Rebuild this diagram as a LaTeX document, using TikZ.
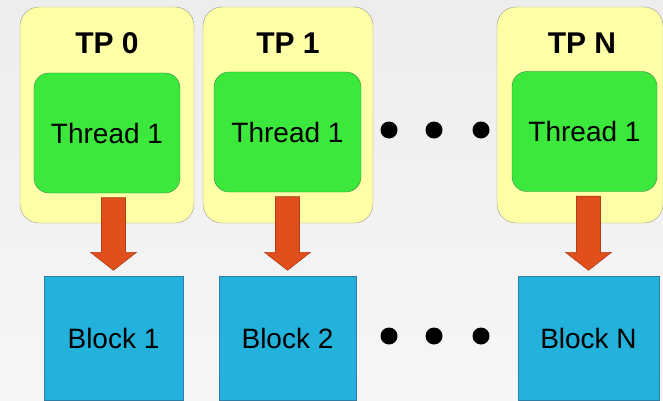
\documentclass[tikz,border=0pt]{standalone}
\usepackage{fontspec}
\setmainfont{Liberation Sans}
\usetikzlibrary{calc}
\definecolor{bgtop}{HTML}{EDEDED}
\definecolor{bgbottom}{HTML}{F6F6F6}
\definecolor{poolfill}{HTML}{FFFFA8}
\definecolor{pooledge}{HTML}{9C9C8C}
\definecolor{threadfill}{HTML}{3DE83D}
\definecolor{threadedge}{HTML}{3C8A48}
\definecolor{blockfill}{HTML}{22B2DC}
\definecolor{blockedge}{HTML}{2D7FA8}
\definecolor{arrowfill}{HTML}{E04F1C}
\definecolor{arrowedge}{HTML}{B23C14}
\tikzset{
  poolbox/.style={
    rectangle, rounded corners=19bp, draw=pooledge, fill=poolfill,
    minimum height=216bp, inner sep=0pt
  },
  pooltitle/.style={
    font=\fontsize{30bp}{36bp}\selectfont\bfseries, inner sep=0pt
  },
  threadbox/.style={
    rectangle, rounded corners=15bp, draw=threadedge, fill=threadfill,
    minimum width=146bp, minimum height=120bp,
    font=\fontsize{28bp}{34bp}\selectfont, inner sep=0pt
  },
  blockbox/.style={
    rectangle, draw=blockedge, fill=blockfill,
    minimum height=124bp,
    font=\fontsize{28bp}{34bp}\selectfont, inner sep=0pt
  },
  fatarrow/.style={
    draw=arrowedge, fill=arrowfill, line width=0.6bp, line join=miter
  },
  ellipsisdot/.style={
    circle, fill=black, minimum size=17bp, inner sep=0pt
  },
}
\begin{document}
\begin{tikzpicture}[x=1bp,y=1bp]
  % background
  \fill[top color=bgtop, bottom color=bgbottom] (0,0) rectangle (663,400);
  \useasboundingbox (0,0) rectangle (663,400);

  % thread pools
  \node[poolbox, minimum width=174bp] (tp0) at (107,285) {};
  \node[poolbox, minimum width=170bp] (tp1) at (288,285) {};
  \node[poolbox, minimum width=166bp] (tpN) at (580,285) {};
  \node[pooltitle] (ttl0) at (107,357) {TP 0};
  \node[pooltitle] (ttl1) at (288,357) {TP 1};
  \node[pooltitle] (ttlN) at (582,357) {TP N};

  % threads
  \node[threadbox] (th0) at (107,267) {Thread 1};
  \node[threadbox, minimum width=147bp] (th1) at (287.5,268) {Thread 1};
  \node[threadbox, minimum width=145bp] (thN) at (584.5,268.5) {Thread 1};

  % blocks
  \node[blockbox, minimum width=139bp] (bl0) at (113.5,61.5) {Block 1};
  \node[blockbox, minimum width=137bp] (bl1) at (287.5,61.5) {Block 2};
  \node[blockbox, minimum width=141bp] (blN) at (588.5,61.5) {Block N};

  % arrows thread -> block
  \foreach \t/\b in {th0/bl0, th1/bl1, thN/blN}
    \draw[fatarrow] let \p1=(\b.north), \p2=(\t.south) in
      (\x1-12bp,\y2-4.5bp) -- (\x1+12bp,\y2-4.5bp) -- (\x1+12bp,\y1+24bp)
      -- (\x1+23bp,\y1+24bp) -- (\x1,\y1+6bp) -- (\x1-23bp,\y1+24bp)
      -- (\x1-12bp,\y1+24bp) -- cycle;

  % ellipsis dots
  \foreach \x in {389,434,481} {
    \node[ellipsisdot] (dt\x) at (\x,270) {};
    \node[ellipsisdot] (db\x) at (\x,64) {};
  }
\end{tikzpicture}
\end{document}
